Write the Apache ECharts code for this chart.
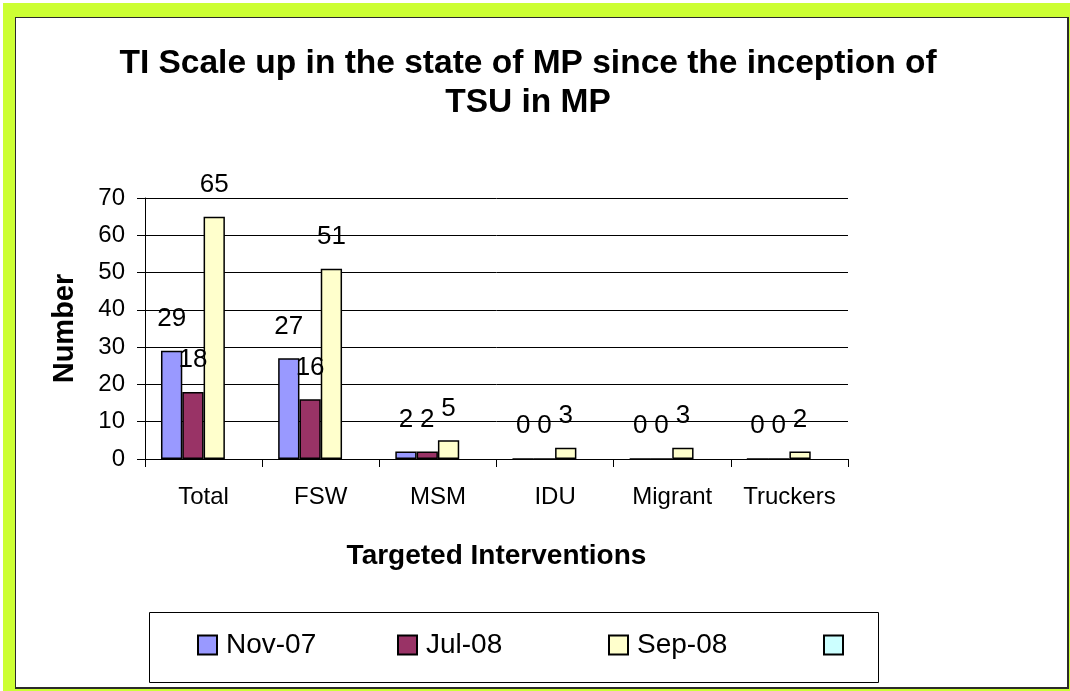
<!DOCTYPE html>
<html>
<head>
<meta charset="utf-8">
<script src="https://cdn.jsdelivr.net/npm/echarts@6/dist/echarts.min.js"></script>
<style>
  html, body { margin: 0; padding: 0; background: #ffffff; }
  #frame { position: absolute; left: 3px; top: 3px; width: 1067px; height: 688px; background: #CCFF33; }
  #panel { position: absolute; left: 15px; top: 17px; width: 1054px; height: 672px; box-sizing: border-box;
           background: #ffffff; border-left: 1px solid #2a2a2a; border-top: 1px solid #2a2a2a;
           border-right: 2px solid #2a2a2a; border-bottom: 2px solid #2a2a2a; }
  #chart { position: absolute; left: 0; top: 0; width: 1070px; height: 691px; }
</style>
</head>
<body>
<div id="frame"></div>
<div id="panel"></div>
<div id="chart"></div>
<script>
const categories = ['Total', 'FSW', 'MSM', 'IDU', 'Migrant', 'Truckers'];
const seriesNames = ['Nov-07', 'Jul-08', 'Sep-08', ' '];
const nov07 = [29, 27, 2, 0, 0, 0];
const jul08 = [18, 16, 2, 0, 0, 0];
const sep08 = [65, 51, 5, 3, 3, 2];
const blank = [null, null, null, null, null, null];
const yMin = 0, yMax = 70, yStep = 10;

const colors = ['#9999FF', '#993366', '#FFFFCC', '#CCFFFF'];
const FONT = "'Liberation Sans', Arial, sans-serif";
const allData = [nov07, jul08, sep08, blank];

const chart = echarts.init(document.getElementById('chart'), null, { renderer: 'canvas' });

const series = allData.map((d, i) => ({
  name: seriesNames[i],
  type: 'bar',
  data: d,
  barWidth: 21.3,
  barGap: '0%',
  itemStyle: { color: colors[i], borderColor: '#000', borderWidth: 1.5 },
  label: {
    show: true, position: 'top', distance: 19,
    color: '#000', fontFamily: FONT, fontSize: 26
  },
  emphasis: { disabled: true },
  animation: false
}));

const legendLefts = [197, 397, 608, 823];
const legends = seriesNames.map((n, i) => ({
  data: [n],
  left: legendLefts[i],
  top: 631,
  padding: 0,
  itemWidth: 19,
  itemHeight: 19,
  icon: 'rect',
  selectedMode: false,
  textStyle: { fontFamily: FONT, fontSize: 28, color: '#000', padding: [0, 0, 0, 4] }
}));

chart.setOption({
  animation: false,
  textStyle: { fontFamily: FONT },
  title: {
    text: 'TI Scale up in the state of MP since the inception of\nTSU in MP',
    left: 528, textAlign: 'center', top: 44, padding: 0,
    textStyle: { fontFamily: FONT, fontSize: 33.5, fontWeight: 'bold', color: '#000', lineHeight: 39 }
  },
  legend: legends,
  graphic: [{
    type: 'rect', z: -1,
    shape: { x: 149.5, y: 612.5, width: 729, height: 70 },
    style: { fill: '#fff', stroke: '#000', lineWidth: 1 }
  }],
  grid: { left: 145, right: 222, top: 198, bottom: 232, containLabel: false },
  xAxis: {
    type: 'category',
    data: categories,
    name: 'Targeted Interventions',
    nameLocation: 'middle',
    nameGap: 83,
    nameTextStyle: { fontFamily: FONT, fontSize: 28, fontWeight: 'bold', color: '#000' },
    axisLine: { show: true, lineStyle: { color: '#000', width: 1 } },
    axisTick: { show: true, length: 8, lineStyle: { color: '#000' } },
    axisLabel: { interval: 0, margin: 26, fontFamily: FONT, fontSize: 24, color: '#000' },
    splitLine: { show: false }
  },
  yAxis: {
    type: 'value',
    min: yMin, max: yMax, interval: yStep,
    name: 'Number',
    nameLocation: 'middle',
    nameGap: 66,
    nameRotate: 90,
    nameTextStyle: { fontFamily: FONT, fontSize: 29, fontWeight: 'bold', color: '#000' },
    axisLine: { show: true, lineStyle: { color: '#000', width: 1 } },
    axisTick: { show: true, length: 8, lineStyle: { color: '#000' } },
    axisLabel: { margin: 20, fontFamily: FONT, fontSize: 24, color: '#000' },
    splitLine: { show: true, lineStyle: { color: '#000', width: 1 } }
  },
  series: series
});
</script>
</body>
</html>
